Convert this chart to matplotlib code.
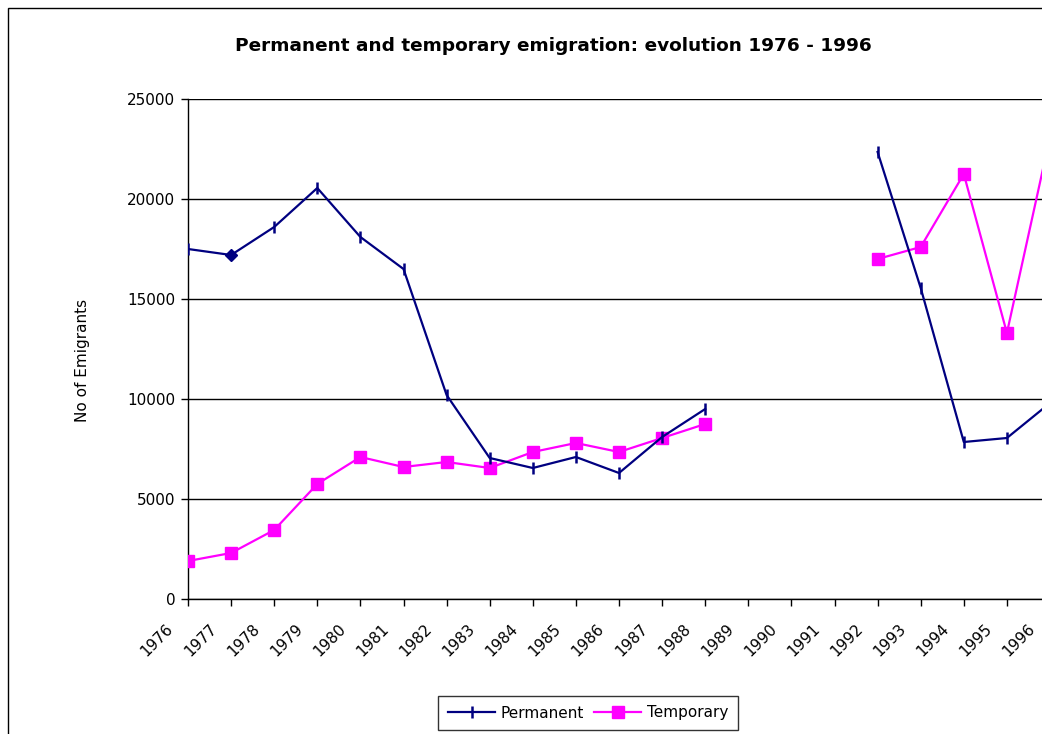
import numpy as np
import matplotlib
matplotlib.use("Agg")
import matplotlib.pyplot as plt
from matplotlib.patches import Rectangle
from matplotlib.lines import Line2D
import matplotlib.transforms as mtransforms

years = list(range(1976, 1997))
permanent = [17500, 17200, 18600, 20550, 18100, 16500, 10200, 7050, 6550, 7100,
             6300, 8100, 9500, np.nan, np.nan, np.nan, 22350, 15550, 7850, 8050, 9800]
temporary = [1900, 2300, 3450, 5750, 7100, 6600, 6850, 6550, 7350, 7800,
             7350, 8050, 8750, np.nan, np.nan, np.nan, 17000, 17600, 21250, 13300, 23100]
yticks = [0, 5000, 10000, 15000, 20000, 25000]
title = "Permanent and temporary emigration: evolution 1976 - 1996"

W, H = 1042, 734
plt.rcParams['font.family'] = ['DejaVu Sans']
FS = 11
fig = plt.figure(figsize=(W / 100, H / 100), dpi=100)

# chart area border (cropped at right/bottom)
fig.patches.append(Rectangle((8 / W, -0.2), 1.5, (H - 8) / H + 0.2,
                             transform=fig.transFigure, fill=False,
                             edgecolor='black', linewidth=1.0))

left, right, top, bottom = 188, 1050, 99, 599
ax = fig.add_axes([left / W, 1 - bottom / H, (right - left) / W, (bottom - top) / H])
ax.set_xlim(years[0], years[-1])
ax.set_ylim(0, 25000)
ax.tick_params(axis='both', direction='out', length=5, width=1, color='black', pad=4)
ax.set_yticks(yticks)
ax.set_yticklabels([str(v) for v in yticks], fontsize=FS)
ax.set_xticks(years)
ax.set_xticklabels([str(y) for y in years], rotation=45, ha='right', va='center',
                   rotation_mode='anchor', fontsize=FS)
offset = mtransforms.ScaledTranslation(-17 / 100, -15 / 100, fig.dpi_scale_trans)
for lab in ax.get_xticklabels():
    lab.set_transform(lab.get_transform() + offset)

for s in ['top', 'right']:
    ax.spines[s].set_visible(False)
for s in ['left', 'bottom']:
    ax.spines[s].set_color('black')
    ax.spines[s].set_linewidth(1.0)
ax.yaxis.grid(True, color='black', linewidth=1.0)
ax.set_axisbelow(True)

navy = '#000080'
mag = '#FF00FF'
x = np.array(years)
ax.plot(x, temporary, color=mag, linewidth=1.6, marker='s', markersize=8.5,
        markerfacecolor=mag, markeredgecolor=mag, clip_on=True, zorder=3)
mk = [i for i in range(len(years)) if i != 1]
ax.plot(x, permanent, color=navy, linewidth=1.6, marker='|', markersize=8,
        markeredgewidth=1.8, markevery=mk, clip_on=True, zorder=4)
ax.plot([x[1]], [permanent[1]], linestyle='none', marker='D', markersize=6.5,
        color=navy, zorder=5)

fig.text(553 / W, 1 - 46 / H, title, ha='center', va='center',
         fontsize=13.3, fontweight='bold')
fig.text(82 / W, 1 - 360 / H, "No of Emigrants", rotation=90, ha='center',
         va='center', fontsize=FS)

handles = [Line2D([], [], color=navy, linewidth=1.6, marker='|', markersize=8,
                  markeredgewidth=1.8),
           Line2D([], [], color=mag, linewidth=1.6, marker='s', markersize=8.5)]
leg = fig.legend(handles, ["Permanent", "Temporary"], loc='center',
                 bbox_to_anchor=(588 / W, 1 - 713 / H), ncol=2, frameon=True,
                 fancybox=False, shadow=False, fontsize=FS, handlelength=3.1,
                 columnspacing=0.65, handletextpad=0.35, borderpad=0.65,
                 borderaxespad=0)
leg.get_frame().set_edgecolor('black')
leg.get_frame().set_linewidth(1.0)

fig.savefig("out.png", dpi=100)
